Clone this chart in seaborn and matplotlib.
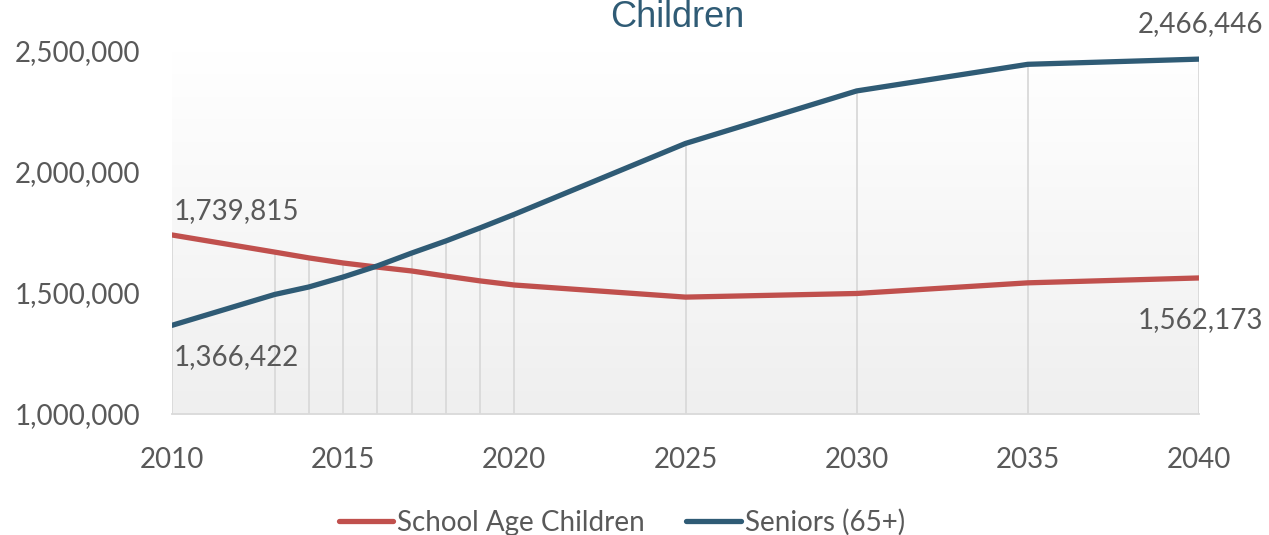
import numpy as np
import pandas as pd
import matplotlib
matplotlib.use("Agg")
import matplotlib.pyplot as plt
import seaborn as sns
from matplotlib.ticker import FuncFormatter

# data
years = [2010, 2013, 2014, 2015, 2016, 2017, 2018, 2019, 2020, 2025, 2030, 2035, 2040]
school_age = [1739815, 1669000, 1645000, 1624000, 1607000, 1591000, 1570000, 1550000,
              1533000, 1483000, 1498000, 1542000, 1562173]
seniors = [1366422, 1494000, 1525000, 1566000, 1612000, 1665000, 1715000, 1769000,
           1825000, 2118000, 2335000, 2445000, 2466446]
series_names = ["School Age Children", "Seniors (65+)"]
colors = ["#C0504D", "#2F5B75"]

df = pd.DataFrame({
    "year": years * 2,
    "value": school_age + seniors,
    "series": [series_names[0]] * len(years) + [series_names[1]] * len(years),
})

sns.set_theme(style="white")
plt.rcParams["font.family"] = ["Lato", "DejaVu Sans"]
txt = "#595959"
fs = 20

fig = plt.figure(figsize=(12.69, 5.35), dpi=100)
ax = fig.add_axes([172 / 1269, 1 - 414 / 535, (1199 - 172) / 1269, (414 - 51) / 535])

ymin, ymax = 1_000_000, 2_500_000

# gradient background of the plot area: white at top, light grey at bottom
grad = np.linspace(0, 1, 256).reshape(-1, 1)
cmap = matplotlib.colors.LinearSegmentedColormap.from_list("bg", ["#ffffff", "#efefef"])
ax.imshow(grad, aspect="auto", cmap=cmap, extent=[2010, 2040, ymin, ymax],
          origin="upper", zorder=0)
ax.set_xlim(2010, 2040)
ax.set_ylim(ymin, ymax)

# drop lines at each data year
tops = np.maximum(school_age, seniors)
ax.vlines(years, ymin, tops, color="#d9d9d9", lw=1.3, zorder=1)

sns.lineplot(data=df, x="year", y="value", hue="series", palette=colors,
             lw=3.8, ax=ax, legend=False, zorder=3, solid_capstyle="round")

for s in ["top", "right", "left"]:
    ax.spines[s].set_visible(False)
ax.spines["bottom"].set_color("#d9d9d9")
ax.spines["bottom"].set_linewidth(1.3)

ax.set_xticks(range(2010, 2041, 5))
ax.set_yticks([1_000_000, 1_500_000, 2_000_000, 2_500_000])
ax.yaxis.set_major_formatter(FuncFormatter(lambda v, p: f"{int(v):,}"))
ax.tick_params(axis="both", length=0, labelsize=fs, colors=txt)
ax.tick_params(axis="x", pad=24)
ax.tick_params(axis="y", pad=23)
ax.set_xlabel("")
ax.set_ylabel("")

# data labels at the ends
ax.annotate(f"{school_age[0]:,}", (years[0], school_age[0]), xytext=(1, 17),
            textcoords="offset points", fontsize=fs, color=txt, ha="left", va="center")
ax.annotate(f"{seniors[0]:,}", (years[0], seniors[0]), xytext=(1, -23),
            textcoords="offset points", fontsize=fs, color=txt, ha="left", va="center")
ax.annotate(f"{seniors[-1]:,}", (years[-1], seniors[-1]), xytext=(46, 25),
            textcoords="offset points", fontsize=fs, color=txt, ha="right", va="center")
ax.annotate(f"{school_age[-1]:,}", (years[-1], school_age[-1]), xytext=(46, -30),
            textcoords="offset points", fontsize=fs, color=txt, ha="right", va="center")

# title (its first line lies above the visible area in the source)
fig.text(0.534, 1 - 27 / 535, "Children", ha="center", va="baseline",
         fontsize=26, color="#2F5B75", family=["Liberation Sans", "DejaVu Sans"])

handles = [plt.Line2D([], [], color=c, lw=3.8, solid_capstyle="round") for c in colors]
fig.legend(handles, series_names, loc="center", bbox_to_anchor=(0.49, 0.023), ncol=2,
           frameon=False, fontsize=fs, labelcolor=txt, handlelength=1.95,
           handletextpad=0.15, columnspacing=1.5)

fig.savefig("out.png", dpi=100)
